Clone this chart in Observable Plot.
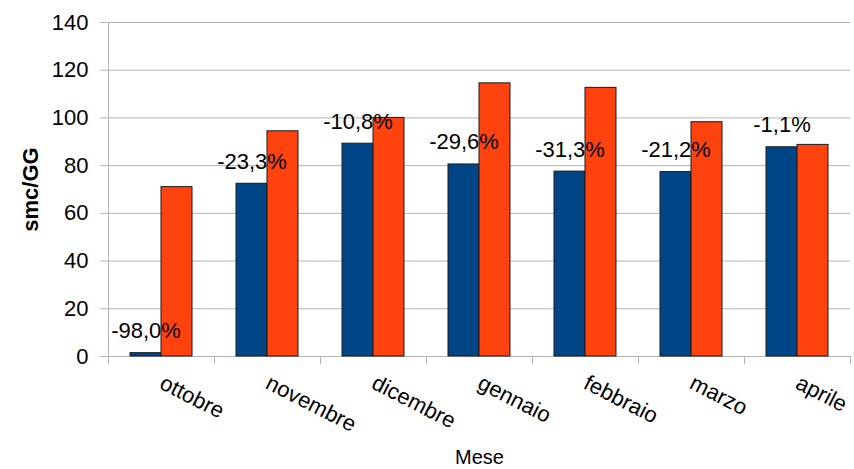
<!DOCTYPE html>
<html>
<head>
<meta charset="utf-8">
<script src="https://cdn.jsdelivr.net/npm/d3@7"></script>
<script src="https://cdn.jsdelivr.net/npm/@observablehq/plot@0.6"></script>
<style>
  html, body { margin: 0; padding: 0; background: #fff; }
  svg { display: block; }
</style>
</head>
<body>
<div id="chart"></div>
<script>
const months = ["ottobre","novembre","dicembre","gennaio","febbraio","marzo","aprile"];
const seriesA = [1.4, 72.4, 89.2, 80.5, 77.5, 77.3, 87.7];
const seriesB = [71.0, 94.4, 100.0, 114.5, 112.6, 98.2, 88.7];
const pctLabels = ["-98,0%","-23,3%","-10,8%","-29,6%","-31,3%","-21,2%","-1,1%"];
const yTicks = [0, 20, 40, 60, 80, 100, 120, 140];

const dataA = months.map((m, i) => ({month: m, value: seriesA[i], label: pctLabels[i]}));
const dataB = months.map((m, i) => ({month: m, value: seriesB[i]}));

const blueC = "#004586";
const redC = "#ff420e";
const gridC = "#b3b3b3";

const chart = Plot.plot({
  width: 854,
  height: 469,
  marginLeft: 108,
  marginRight: 4,
  marginTop: 22,
  marginBottom: 113,
  style: {fontFamily: "'Liberation Sans', Arial, sans-serif", fontSize: "22px", background: "#fff", color: "#000"},
  x: {type: "band", domain: months, padding: 0, axis: null},
  y: {domain: [0, 140], axis: null},
  marks: [
    Plot.gridY(yTicks.filter(d => d > 0), {stroke: gridC, strokeOpacity: 1}),
    Plot.ruleY([0], {stroke: gridC, strokeOpacity: 1}),
    Plot.ruleX([months[0]], {dx: -53, stroke: gridC}),
    Plot.ruleX(months, {x: d => d, dx: -53, y1: 0, y2: -3.4, stroke: gridC}),
    Plot.ruleX([months[months.length - 1]], {dx: 53, y1: 0, y2: -3.4, stroke: gridC}),
    Plot.axisY(yTicks, {tickSize: 8, tickPadding: 12, stroke: gridC, label: null, fontSize: 22}),
    Plot.axisX({tickSize: 0, tickRotate: 27, tickPadding: 25, label: null, fontSize: 22}),
    Plot.barY(dataA, {x: "month", y: "value", fill: blueC, stroke: "#1a1a1a", strokeWidth: 1, insetLeft: 22, insetRight: 53}),
    Plot.barY(dataB, {x: "month", y: "value", fill: redC, stroke: "#1a1a1a", strokeWidth: 1, insetLeft: 53, insetRight: 22}),
    Plot.text(dataA, {x: "month", y: "value", text: "label", dx: -15.5, dy: -22, fontSize: 22, fill: "#000", textAnchor: "middle", lineAnchor: "middle"}),
    Plot.text(["smc/GG"], {frameAnchor: "left", dx: -78, rotate: -90, fontWeight: "bold", fontSize: 22, fill: "#000", textAnchor: "middle", lineAnchor: "middle"}),
    Plot.text(["Mese"], {frameAnchor: "bottom", dy: 101, fontSize: 20, fill: "#000", textAnchor: "middle", lineAnchor: "middle"})
  ]
});
document.getElementById("chart").appendChild(chart);
</script>
</body>
</html>
